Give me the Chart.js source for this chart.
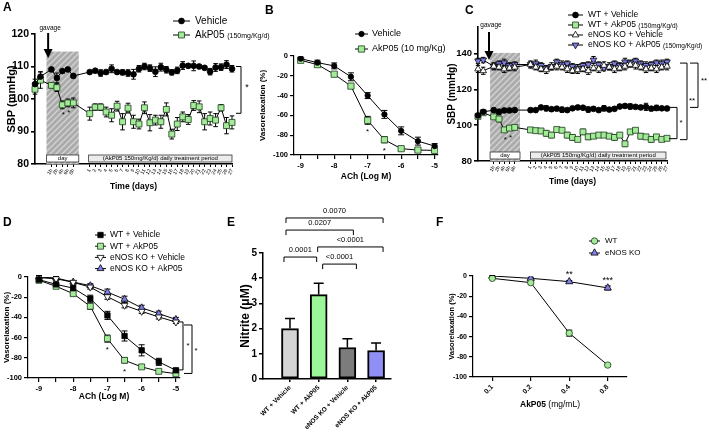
<!DOCTYPE html>
<html>
<head>
<meta charset="utf-8">
<script src="https://cdn.jsdelivr.net/npm/chart.js@4.4.1/dist/chart.umd.min.js"></script>
<style>
html, body { margin: 0; padding: 0; background: #fff; }
#wrap { position: relative; width: 709px; height: 436px; overflow: hidden; background: #fff; }
#wrap canvas { position: absolute; left: 0; top: 0; }
</style>
</head>
<body>
<div id="wrap">
  <canvas id="cA" width="709" height="436"></canvas>
  <canvas id="cB" width="709" height="436"></canvas>
  <canvas id="cC" width="709" height="436"></canvas>
  <canvas id="cD" width="709" height="436"></canvas>
  <canvas id="cE" width="709" height="436"></canvas>
  <canvas id="cF" width="709" height="436"></canvas>
</div>
<script>
// ---------- data ----------
// time course (A, C): 2 baseline readings, 5 readings on gavage day, 27 treatment days
const timeLabels = ['', '', '', '1h', '2h', '4h', '6h', '8h', '', '',
  '1', '2', '3', '4', '5', '6', '7', '8', '9', '10', '11', '12', '13', '14', '15', '16', '17', '18',
  '19', '20', '21', '22', '23', '24', '25', '26', '27'];
const treatmentText = '(AkP05 150mg/Kg/d) daily treatment period';

const seriesA = ['Vehicle', 'AkP05'];
const aVeh = [104.6, 106.9, null, 109.1, 106.5, 108.6, 109.1, 107.1, null, null,
  108.3, 108.7, 108.0, 108.3, 109.3, 108.3, 108.2, 108.0, 107.6, 109.3,
  110.0, 109.5, 108.4, 109.8, 109.0, 108.2, 108.8, 110.3, 110.2, 110.2,
  110.0, 109.6, 108.4, 109.7, 109.8, 110.6, 109.3];
const aVehErr = [1.5, 1.5, null, 0.5, 1.5, 0.5, 0.5, 0.5, null, null,
  0.5, 0.5, 1.0, 0.6, 1.2, 0.5, 0.8, 1.0, 1.5, 1.0,
  1.0, 1.0, 1.5, 1.2, 1.0, 0.8, 1.0, 1.2, 0.6, 1.5,
  0.5, 0.6, 1.0, 1.2, 1.0, 1.2, 1.0];
const aAk = [103.0, 105.8, null, 104.2, 103.5, 98.2, 98.8, 98.8, null, null,
  95.5, 97.5, 97.5, 96.0, 95.0, 97.8, 93.0, 97.2, 93.0, 92.3,
  97.3, 92.7, 93.5, 93.0, 96.8, 89.2, 92.3, 94.5, 93.7, 98.0,
  97.6, 93.0, 94.0, 93.5, 97.3, 91.8, 92.8];
const aAkErr = [1.5, 2.5, null, 0.8, 1.2, 1.2, 1.2, 1.5, null, null,
  2.0, 1.0, 1.0, 1.5, 2.0, 1.5, 2.5, 1.5, 2.0, 1.5,
  1.8, 2.5, 1.5, 2.0, 2.0, 1.5, 2.0, 1.5, 1.5, 1.5,
  1.8, 2.5, 2.0, 2.0, 1.0, 2.5, 2.0];

// concentration-response (B, D)
const logAch = [-9, -8.5, -8, -7.5, -7, -6.5, -6, -5.5, -5];
const seriesB = ['Vehicle', 'AkP05 (10 mg/Kg)'];
const bVeh = [-2.7, -6.7, -10, -21, -40, -59, -75.6, -86, -91];
const bVehErr = [1.5, 2.5, 3, 4, 3, 4, 4, 4, 2.5];
const bAk = [-4.3, -8.7, -18.4, -30.4, -65, -84.6, -93.6, -95, -95.3];
const bAkErr = [1, 1.5, 1.5, 2, 4, 3, 2, 1.5, 1.5];

const seriesC = ['WT + Vehicle', 'WT + AkP05', 'eNOS KO + Vehicle', 'eNOS KO + AkP05'];
const cWtVeh = [105.5, 107.5, null, 108.5, 107.5, 108.3, 108.3, 108.5, null, null,
  108.5, 108.5, 110.0, 109.5, 109.0, 109.3, 108.7, 108.5, 109.5, 110.0,
  109.8, 108.8, 109.2, 108.5, 109.5, 108.8, 109.2, 110.5, 110.8, 110.5,
  110.3, 110.0, 110.3, 109.3, 109.7, 109.5, 109.4];
const cWtVehErr = [1, 1, null, 1, 1.5, 0.5, 0.5, 1, null, null,
  1, 1, 1, 1.5, 1, 1, 1.5, 1, 1, 1,
  1, 1.5, 1, 1, 1.5, 1, 1, 1, 1, 1.5,
  1, 1, 2, 1, 1.5, 1, 1];
const cWtAk = [105.0, 107.0, null, 104.7, 103.5, 97.4, 98.4, 98.8, null, null,
  97.4, 97.0, 96.8, 95.5, 94.5, 97.6, 97.2, 94.5, 93.2, 92.1,
  96.3, 93.5, 93.9, 94.5, 94.5, 93.9, 93.2, 94.5, 89.6, 96.3,
  97.2, 93.9, 93.5, 92.1, 93.5, 92.1, 92.7];
const cWtAkErr = [1, 1, null, 1, 1.5, 1, 1, 1, null, null,
  1, 1, 1, 1.5, 1.5, 1, 1, 1.5, 1.5, 1,
  1.5, 1.5, 1, 1, 1, 1, 1.5, 1, 1.5, 1,
  1, 1.5, 1, 1.5, 1, 1, 1];
const cKoVeh = [131.5, 130.5, null, 133.0, 132.5, 131.5, 132.0, 132.5, null, null,
  134.0, 132.5, 131.5, 131.0, 132.5, 133.0, 132.5, 131.5, 130.5, 131.0,
  131.5, 130.5, 132.0, 131.5, 133.5, 132.5, 131.5, 132.0, 133.0, 134.0,
  133.5, 132.5, 131.5, 132.0, 131.5, 132.5, 133.0];
const cKoVehErr = [2, 2, null, 2, 1.5, 2, 1.5, 2, null, null,
  2, 1.5, 1.5, 2, 1.5, 2, 1.5, 2, 1.5, 2,
  1.5, 2, 1.5, 2, 2, 1.5, 2, 1.5, 2, 1.5,
  2, 1.5, 2, 1.5, 2, 1.5, 2];
const cKoAk = [136.0, 136.5, null, 133.0, 134.5, 135.0, 133.5, 134.0, null, null,
  134.0, 134.5, 133.5, 132.0, 133.0, 135.5, 134.0, 134.5, 133.0, 132.0,
  133.5, 134.0, 136.5, 134.0, 132.0, 133.0, 134.5, 133.5, 135.5, 135.0,
  136.0, 134.5, 133.5, 134.0, 135.0, 134.5, 135.5];
const cKoAkErr = [1.5, 1.5, null, 1.5, 1.5, 2, 1.5, 1.5, null, null,
  1.5, 2, 1.5, 1.5, 2, 1.5, 2, 1.5, 1.5, 2,
  1.5, 1.5, 2, 1.5, 1.5, 2, 1.5, 1.5, 2, 1.5,
  1.5, 1.5, 2, 1.5, 1.5, 2, 1.5];

const seriesD = ['WT + Vehicle', 'WT + AkP05', 'eNOS KO + Vehicle', 'eNOS KO + AkP05'];
const dWtVeh = [-2.6, -7.3, -11, -21.5, -38, -58.4, -72.6, -84, -92.4];
const dWtVehErr = [1.5, 2, 3, 3.5, 4, 5, 5.5, 3.5, 2];
const dWtAk = [-3.3, -9.2, -16.5, -29, -61, -82.5, -89, -93.4, -95.7];
const dWtAkErr = [1, 1.5, 2, 3, 3.5, 2.5, 1.5, 1.5, 1];
const dKoVeh = [-0.7, -1.7, -5.3, -10, -19.5, -28, -34, -39.6, -44.6];
const dKoVehErr = [1.5, 1.5, 1.5, 2, 2.5, 2.5, 2, 2, 1.5];
const dKoAk = [0, -1, -5, -8.6, -15, -22, -30.5, -36.3, -42];
const dKoAkErr = [1.5, 1.5, 1.5, 2, 3, 3, 2.5, 2.5, 2];

// nitrite (E)
const eGroups = ['WT + Vehicle', 'WT + AkP05', 'eNOS KO + Vehicle', 'eNOS KO + AkP05'];
const eNitrite = [2.0, 3.35, 1.25, 1.13];
const eSem = [0.4, 0.45, 0.35, 0.3];
const ePairs = [[0, 1], [1, 2], [1, 3], [0, 2], [0, 3]];
const ePvalues = ['0.0001', '<0.0001', '<0.0001', '0.0207', '0.0070'];

// ex vivo AkP05 (F)
const fDose = ['0.1', '0.2', '0.4', '0.8'];
const seriesF = ['WT', 'eNOS KO'];
const fWt = [-2.3, -6.6, -56.6, -88.2];
const fWtErr = [1, 1, 3, 1];
const fKo = [0, -2.3, -5.6, -11.8];
const fKoErr = [0.5, 1, 1.2, 2];

// ---------- styles ----------
const FONT = '"Liberation Sans", Arial, Helvetica, sans-serif';
Chart.defaults.font.family = FONT;
Chart.defaults.color = '#000';

const GREEN = '#a3eb98';
const BLUE = '#8080ea';
const ST = {
  veh: { shape: 'circle', r: 2.9, fill: '#000', stroke: '#000' },
  vehSq: { shape: 'rect', r: 3.8, fill: '#000', stroke: '#000' },
  ak: { shape: 'rect', r: 4.2, fill: GREEN, stroke: '#1e3b1e' },
  akCircle: { shape: 'circle', r: 3.2, fill: GREEN, stroke: '#1e3b1e' },
  koUp: { shape: 'triangle', r: 3.8, rot: 0, fill: '#fff', stroke: '#000' },
  koDown: { shape: 'triangle', r: 4, rot: 180, fill: '#fff', stroke: '#000' },
  koAkUp: { shape: 'triangle', r: 4, rot: 0, fill: BLUE, stroke: '#000' },
  koAkDown: { shape: 'triangle', r: 3.8, rot: 180, fill: BLUE, stroke: '#000' }
};

const f = (size, weight = 'bold') => ({ family: FONT, size, weight, lineHeight: 1.2 });
const css = (size, weight = 'normal') => `${weight} ${size}px ${FONT}`;

function series(label, data, means, errors, st) {
  return {
    label, data, means, errors,
    borderColor: '#000', borderWidth: 1,
    pointStyle: st.shape, pointRadius: st.r, pointRotation: st.rot || 0,
    pointBackgroundColor: st.fill, pointBorderColor: st.stroke, pointBorderWidth: 0.8,
    tension: 0, spanGaps: true, fill: false
  };
}
const pts = (xs, ys) => xs.map((x, i) => ({ x, y: ys[i] }));

function opts(area, yW, xH, scales) {
  return {
    responsive: false, animation: false, devicePixelRatio: 1, events: [],
    layout: { padding: { left: area.l - yW, top: area.t, right: 709 - area.r, bottom: 436 - area.b - xH } },
    plugins: { legend: { display: false }, tooltip: { enabled: false } },
    scales
  };
}

function yAxis(o) {
  const lw = o.lw || 1.2;
  const a = {
    type: 'linear', min: o.min, max: o.max,
    ticks: { stepSize: o.step, font: o.tickFont, color: '#000', padding: 2 },
    grid: { drawOnChartArea: false, color: '#000', lineWidth: lw, tickLength: 4 },
    border: { color: '#000', width: lw },
    title: { display: true, text: o.title, font: o.titleFont, color: '#000', padding: { top: o.titlePad, bottom: 0 } },
    afterFit: s => { s.width = o.w; }
  };
  if (o.ticksAt) a.afterBuildTicks = s => { s.ticks = o.ticksAt.map(v => ({ value: v })); };
  return a;
}

function timeAxis(xH) {
  return {
    type: 'category', offset: false,
    ticks: { autoSkip: false, minRotation: 60, maxRotation: 60, font: f(5, 'normal'), color: '#000', padding: 1 },
    grid: { drawOnChartArea: false, offset: false, color: '#000', lineWidth: 1, tickLength: 3,
      tickColor: c => (timeLabels[c.index] ? '#000' : 'rgba(0,0,0,0)') },
    border: { color: '#000', width: 1.6 },
    title: { display: true, text: 'Time (days)', font: f(8.5), color: '#000', padding: { top: 0, bottom: 2 } },
    afterFit: s => { s.height = xH; }
  };
}

function logAxis(min, max, xH) {
  return {
    type: 'linear', min, max,
    afterBuildTicks: s => { s.ticks = logAch.map(v => ({ value: v })); },
    ticks: { autoSkip: false, maxRotation: 0, font: f(7.5), color: '#000', padding: 2,
      callback: v => (Number.isInteger(v) ? String(v) : '') },
    grid: { drawOnChartArea: false, color: '#000', lineWidth: 1.2, tickLength: 4 },
    border: { color: '#000', width: 1.2 },
    title: { display: true, text: 'ACh (Log M)', font: f(8.5), color: '#000', padding: { top: 0, bottom: 1 } },
    afterFit: s => { s.height = xH; }
  };
}

// ---------- drawing helpers ----------
function txt(ctx, s, x, y, font, align = 'center') {
  ctx.save();
  ctx.font = font; ctx.fillStyle = '#000'; ctx.textAlign = align; ctx.textBaseline = 'middle';
  ctx.fillText(s, x, y);
  ctx.restore();
}

function marker(ctx, st, x, y) {
  ctx.save();
  ctx.beginPath();
  if (st.shape === 'circle') {
    ctx.arc(x, y, st.r, 0, Math.PI * 2);
  } else if (st.shape === 'rect') {
    const h = st.r * Math.SQRT1_2;
    ctx.rect(x - h, y - h, 2 * h, 2 * h);
  } else {
    let a = (st.rot || 0) * Math.PI / 180;
    for (let k = 0; k < 3; k++) {
      const px = x + Math.sin(a) * st.r, py = y - Math.cos(a) * st.r;
      if (k === 0) ctx.moveTo(px, py); else ctx.lineTo(px, py);
      a += Math.PI * 2 / 3;
    }
    ctx.closePath();
  }
  ctx.fillStyle = st.fill; ctx.fill();
  ctx.strokeStyle = st.stroke; ctx.lineWidth = 0.8; ctx.stroke();
  ctx.restore();
}

function legend(ctx, items, x0, y0, dy, len, gap, size, small) {
  items.forEach((it, k) => {
    const y = y0 + k * dy;
    ctx.save();
    ctx.strokeStyle = '#000'; ctx.lineWidth = 1;
    ctx.beginPath(); ctx.moveTo(x0, y); ctx.lineTo(x0 + len, y); ctx.stroke();
    ctx.restore();
    marker(ctx, it.st, x0 + len / 2, y);
    const tx = x0 + len + gap;
    txt(ctx, it.label, tx, y, css(size), 'left');
    if (it.small) {
      ctx.save(); ctx.font = css(size);
      const w = ctx.measureText(it.label + ' ').width;
      ctx.restore();
      txt(ctx, it.small, tx + w, y + 1, css(small), 'left');
    }
  });
}

function errorBars(chart, cap, lw, upOnly) {
  const { ctx } = chart;
  const ys = chart.scales.y;
  ctx.save();
  ctx.strokeStyle = '#000'; ctx.lineWidth = lw;
  chart.data.datasets.forEach((ds, i) => {
    if (!ds.errors) return;
    chart.getDatasetMeta(i).data.forEach((el, j) => {
      const m = ds.means[j], e = ds.errors[j];
      if (m == null || e == null) return;
      const x = el.x;
      const yHi = ys.getPixelForValue(m + e);
      const yLo = ys.getPixelForValue(upOnly ? m : m - e);
      ctx.beginPath();
      ctx.moveTo(x, yLo); ctx.lineTo(x, yHi);
      ctx.moveTo(x - cap, yHi); ctx.lineTo(x + cap, yHi);
      if (!upOnly) { ctx.moveTo(x - cap, yLo); ctx.lineTo(x + cap, yLo); }
      ctx.stroke();
    });
  });
  ctx.restore();
}

function hatch(ctx) {
  const c = document.createElement('canvas');
  c.width = 6; c.height = 6;
  const g = c.getContext('2d');
  g.fillStyle = '#ababab'; g.fillRect(0, 0, 6, 6);
  g.strokeStyle = '#d2d2d2'; g.lineWidth = 1.4;
  g.beginPath();
  g.moveTo(0, 6); g.lineTo(6, 0);
  g.moveTo(-3, 3); g.lineTo(3, -3);
  g.moveTo(3, 9); g.lineTo(9, 3);
  g.stroke();
  return ctx.createPattern(c, 'repeat');
}

function shade(chart, i0, i1, vTop) {
  const { ctx, chartArea, scales: { x, y } } = chart;
  const x0 = x.getPixelForValue(i0), x1 = x.getPixelForValue(i1), yt = y.getPixelForValue(vTop);
  ctx.save();
  ctx.fillStyle = hatch(ctx);
  ctx.fillRect(x0, yt, x1 - x0, chartArea.bottom - yt);
  ctx.restore();
}

function phaseBoxes(chart, day, treat) {
  const { ctx, chartArea, scales: { x } } = chart;
  const yb = chartArea.bottom - 2, h = 7;
  const box = (a, b, fill, label) => {
    const x0 = x.getPixelForValue(a), x1 = x.getPixelForValue(b);
    ctx.save();
    ctx.fillStyle = fill; ctx.fillRect(x0, yb - h, x1 - x0, h);
    ctx.strokeStyle = '#333'; ctx.lineWidth = 0.8; ctx.strokeRect(x0, yb - h, x1 - x0, h);
    ctx.restore();
    txt(ctx, label, (x0 + x1) / 2, yb - h / 2, css(6));
  };
  box(day[0], day[1], '#fff', 'day');
  box(treat[0], treat[1], '#ececec', treatmentText);
}

function gavage(ctx, x, yText, y0, y1) {
  txt(ctx, 'gavage', x + 2, yText, css(6.5));
  ctx.save();
  ctx.strokeStyle = '#000'; ctx.fillStyle = '#000'; ctx.lineWidth = 2;
  ctx.beginPath(); ctx.moveTo(x, y0); ctx.lineTo(x, y1 - 7); ctx.stroke();
  ctx.beginPath(); ctx.moveTo(x - 4.5, y1 - 9); ctx.lineTo(x + 4.5, y1 - 9); ctx.lineTo(x, y1); ctx.closePath(); ctx.fill();
  ctx.restore();
}

function vbracket(ctx, xs, xv, ya, yb) {
  ctx.save();
  ctx.strokeStyle = '#000'; ctx.lineWidth = 1;
  ctx.beginPath(); ctx.moveTo(xs, ya); ctx.lineTo(xv, ya); ctx.lineTo(xv, yb); ctx.lineTo(xs, yb); ctx.stroke();
  ctx.restore();
}

function hbracket(ctx, xa, xb, y, tick) {
  ctx.save();
  ctx.strokeStyle = '#000'; ctx.lineWidth = 1;
  ctx.beginPath(); ctx.moveTo(xa, y + tick); ctx.lineTo(xa, y); ctx.lineTo(xb, y); ctx.lineTo(xb, y + tick); ctx.stroke();
  ctx.restore();
}

const letter = (ctx, s, x, y) => txt(ctx, s, x, y, css(12, 'bold'), 'left');

// ---------- A ----------
new Chart(document.getElementById('cA'), {
  type: 'line',
  data: {
    labels: timeLabels,
    datasets: [
      series(seriesA[0], aVeh, aVeh, aVehErr, ST.veh),
      series(seriesA[1], aAk, aAk, aAkErr, ST.ak)
    ]
  },
  options: opts({ l: 35, t: 34, r: 232, b: 164 }, 35, 30, {
    x: timeAxis(30),
    y: yAxis({ min: 80, max: 120, step: 10, w: 35, title: 'SBP (mmHg)', tickFont: f(10.5), titleFont: f(11), titlePad: 5, lw: 1.6 })
  }),
  plugins: [{
    id: 'decorA',
    beforeDatasetsDraw(c) {
      shade(c, 2.1, 8, 114.6);
      errorBars(c, 2.3, 1, false);
    },
    afterDatasetsDraw(c) {
      const { ctx, chartArea, scales: { x, y } } = c;
      phaseBoxes(c, [2.1, 8], [9.8, 36]);
      gavage(ctx, x.getPixelForValue(2.4), 28, 33, 58);
      [5, 6].forEach(i => txt(ctx, '*', x.getPixelForValue(i) + 1, y.getPixelForValue(aAk[i]) + 10, css(8)));
      const r = chartArea.right;
      vbracket(ctx, r + 4, r + 9, y.getPixelForValue(110), y.getPixelForValue(95.6));
      txt(ctx, '*', r + 15, (y.getPixelForValue(110) + y.getPixelForValue(95.6)) / 2 - 2, css(9));
      legend(ctx, [
        { label: seriesA[0], st: ST.veh },
        { label: seriesA[1], small: '(150mg/Kg/d)', st: ST.ak }
      ], 173, 21, 14, 17, 5, 10, 7);
      letter(ctx, 'A', 3, 8);
    }
  }]
});

// ---------- B ----------
new Chart(document.getElementById('cB'), {
  type: 'line',
  data: {
    datasets: [
      series(seriesB[0], pts(logAch, bVeh), bVeh, bVehErr, { ...ST.veh, r: 2.7 }),
      series(seriesB[1], pts(logAch, bAk), bAk, bAkErr, { ...ST.ak, r: 4.4 })
    ]
  },
  options: opts({ l: 294, t: 56, r: 438, b: 155 }, 39, 28, {
    x: logAxis(-9.2, -4.9, 28),
    y: yAxis({ min: -100, max: 0, step: 20, w: 39, title: 'Vasorelaxation (%)', tickFont: f(7.5), titleFont: f(8), titlePad: 3 })
  }),
  plugins: [{
    id: 'decorB',
    beforeDatasetsDraw(c) { errorBars(c, 3, 1, false); },
    afterDatasetsDraw(c) {
      const { ctx, scales: { x, y } } = c;
      [4, 5].forEach(i => txt(ctx, '*', x.getPixelForValue(logAch[i]), y.getPixelForValue(bAk[i]) + 11, css(8)));
      legend(ctx, [
        { label: seriesB[0], st: { ...ST.veh, r: 2.7 } },
        { label: seriesB[1], st: { ...ST.ak, r: 4.4 } }
      ], 355, 34, 15, 13, 4, 9, 7);
      letter(ctx, 'B', 265, 11);
    }
  }]
});

// ---------- C ----------
new Chart(document.getElementById('cC'), {
  type: 'line',
  data: {
    labels: timeLabels,
    datasets: [
      series(seriesC[0], cWtVeh, cWtVeh, cWtVehErr, ST.veh),
      series(seriesC[1], cWtAk, cWtAk, cWtAkErr, ST.ak),
      series(seriesC[2], cKoVeh, cKoVeh, cKoVehErr, ST.koUp),
      series(seriesC[3], cKoAk, cKoAk, cKoAkErr, ST.koAkDown)
    ]
  },
  options: opts({ l: 478, t: 27, r: 667, b: 161 }, 33, 28, {
    x: timeAxis(28),
    y: yAxis({ min: 80, max: 155, ticksAt: [80, 100, 120, 140], w: 33, title: 'SBP (mmHg)', tickFont: f(9.5), titleFont: f(10), titlePad: 1, lw: 1.6 })
  }),
  plugins: [{
    id: 'decorC',
    beforeDatasetsDraw(c) {
      shade(c, 2.3, 8, 140.5);
      errorBars(c, 2.2, 1, false);
    },
    afterDatasetsDraw(c) {
      const { ctx, chartArea, scales: { x, y } } = c;
      phaseBoxes(c, [2.3, 8], [10, 35.8]);
      gavage(ctx, x.getPixelForValue(2.1), 25, 32, 60);
      [5, 6].forEach(i => txt(ctx, '*', x.getPixelForValue(i) + 1, y.getPixelForValue(cWtAk[i]) + 10, css(8)));
      const r = chartArea.right;
      const yVeh = y.getPixelForValue(110), yAk = y.getPixelForValue(92.5), yKo = y.getPixelForValue(134.8);
      vbracket(ctx, r + 2, r + 10, yVeh, yAk);
      txt(ctx, '*', r + 14, (yVeh + yAk) / 2, css(8));
      vbracket(ctx, r + 13, r + 20, yKo, yAk + 1);
      txt(ctx, '**', r + 25, (yKo + yAk) / 2, css(8));
      vbracket(ctx, r + 23, r + 31, yKo, yVeh);
      txt(ctx, '**', r + 37, (yKo + yVeh) / 2 - 4, css(8));
      legend(ctx, [
        { label: seriesC[0], st: ST.veh },
        { label: seriesC[1], small: '(150mg/Kg/d)', st: ST.ak },
        { label: seriesC[2], st: ST.koUp },
        { label: seriesC[3], small: '(150mg/Kg/d)', st: ST.koAkDown }
      ], 568, 15, 10, 15, 5, 8.5, 6.5);
      letter(ctx, 'C', 465, 11);
    }
  }]
});

// ---------- D ----------
new Chart(document.getElementById('cD'), {
  type: 'line',
  data: {
    datasets: [
      series(seriesD[0], pts(logAch, dWtVeh), dWtVeh, dWtVehErr, ST.vehSq),
      series(seriesD[1], pts(logAch, dWtAk), dWtAk, dWtAkErr, ST.ak),
      series(seriesD[2], pts(logAch, dKoVeh), dKoVeh, dKoVehErr, ST.koDown),
      series(seriesD[3], pts(logAch, dKoAk), dKoAk, dKoAkErr, ST.koAkUp)
    ]
  },
  options: opts({ l: 28, t: 277, r: 180, b: 378 }, 28, 25, {
    x: logAxis(-9.32, -4.88, 25),
    y: yAxis({ min: -100, max: 0, step: 20, w: 28, title: 'Vasorelaxation (%)', tickFont: f(7.5), titleFont: f(8), titlePad: 2 })
  }),
  plugins: [{
    id: 'decorD',
    beforeDatasetsDraw(c) { errorBars(c, 3, 1, false); },
    afterDatasetsDraw(c) {
      const { ctx, chartArea, scales: { x, y } } = c;
      [4, 5].forEach(i => txt(ctx, '*', x.getPixelForValue(logAch[i]), y.getPixelForValue(dWtAk[i]) + 11, css(8)));
      const r = chartArea.right;
      vbracket(ctx, r - 2, r + 3, y.getPixelForValue(-44.5), y.getPixelForValue(-92));
      txt(ctx, '*', r + 8, (y.getPixelForValue(-44.5) + y.getPixelForValue(-92)) / 2, css(8));
      vbracket(ctx, r + 4, r + 12, y.getPixelForValue(-47.5), y.getPixelForValue(-95.5));
      txt(ctx, '*', r + 16, (y.getPixelForValue(-47.5) + y.getPixelForValue(-95.5)) / 2 + 2, css(8));
      legend(ctx, [
        { label: seriesD[0], st: ST.vehSq },
        { label: seriesD[1], st: ST.ak },
        { label: seriesD[2], st: ST.koDown },
        { label: seriesD[3], st: ST.koAkUp }
      ], 95, 235, 11.2, 11, 4, 8.5, 7);
      letter(ctx, 'D', 3, 223);
    }
  }]
});

// ---------- E ----------
const eColors = ['#d4d4d4', '#9df59a', '#7c7c7c', '#8f8ff5'];
const eBracketLayout = [
  { level: 4.84, dx: [-6, -2] },
  { level: 4.56, dx: [4, 9] },
  { level: 5.24, dx: [-1, 7] },
  { level: 5.91, dx: [-4, 6] },
  { level: 6.39, dx: [-4, 7] }
];
new Chart(document.getElementById('cE'), {
  type: 'bar',
  data: {
    datasets: [{
      data: eNitrite.map((v, i) => ({ x: i, y: v })),
      means: eNitrite, errors: eSem,
      backgroundColor: eColors, borderColor: '#000', borderWidth: 2, borderSkipped: false,
      barThickness: 17
    }]
  },
  options: opts({ l: 263, t: 253, r: 391, b: 379 }, 26, 57, {
    x: {
      type: 'linear', min: -0.94, max: 3.52, offset: false,
      afterBuildTicks: s => { s.ticks = eGroups.map((g, i) => ({ value: i })); },
      ticks: { autoSkip: false, minRotation: 45, maxRotation: 45, font: f(6.5), color: '#000', padding: 2,
        callback: v => eGroups[v] },
      grid: { drawOnChartArea: false, offset: false, color: '#000', lineWidth: 1.5, tickLength: 3 },
      border: { color: '#000', width: 1.5 },
      afterFit: s => { s.height = 57; }
    },
    y: yAxis({ min: 0, max: 5, step: 1, w: 26, title: 'Nitrite (μM)', tickFont: f(10), titleFont: f(12), titlePad: 1, lw: 1.5 })
  }),
  plugins: [{
    id: 'decorE',
    afterDatasetsDraw(c) {
      const { ctx, scales: { x, y } } = c;
      errorBars(c, 5, 1.5, true);
      ePairs.forEach((p, k) => {
        const L = eBracketLayout[k];
        const xa = x.getPixelForValue(p[0]) + L.dx[0], xb = x.getPixelForValue(p[1]) + L.dx[1];
        const yy = y.getPixelForValue(L.level);
        hbracket(ctx, xa, xb, yy, 5);
        txt(ctx, ePvalues[k], (xa + xb) / 2, yy - 7, css(7.5));
      });
      letter(ctx, 'E', 227, 223);
    }
  }]
});

// ---------- F ----------
new Chart(document.getElementById('cF'), {
  type: 'line',
  data: {
    labels: fDose,
    datasets: [
      series(seriesF[0], fWt, fWt, fWtErr, ST.akCircle),
      series(seriesF[1], fKo, fKo, fKoErr, { ...ST.koAkUp, r: 4.2 })
    ]
  },
  options: opts({ l: 473, t: 276, r: 627, b: 377 }, 27, 32, {
    x: {
      type: 'category', offset: true,
      ticks: { autoSkip: false, minRotation: 45, maxRotation: 45, font: f(7), color: '#000', padding: 2 },
      grid: { drawOnChartArea: false, offset: false, color: '#000', lineWidth: 1.2, tickLength: 4 },
      border: { color: '#000', width: 1.2 },
      afterFit: s => { s.height = 32; }
    },
    y: yAxis({ min: -100, max: 0, step: 20, w: 27, title: 'Vasorelaxation (%)', tickFont: f(7), titleFont: f(7.5), titlePad: 1.5 })
  }),
  plugins: [{
    id: 'decorF',
    beforeDatasetsDraw(c) { errorBars(c, 3, 1, false); },
    afterDatasetsDraw(c) {
      const { ctx, chartArea, scales: { x, y } } = c;
      txt(ctx, '**', x.getPixelForValue(2), y.getPixelForValue(fKo[2]) - 7, css(9));
      txt(ctx, '***', x.getPixelForValue(3), y.getPixelForValue(fKo[3] + fKoErr[3]) - 5, css(9));
      // x title: bold compound name + regular unit
      ctx.save();
      ctx.font = css(8.5, 'bold');
      const w1 = ctx.measureText('AkP05').width;
      ctx.font = css(8.5);
      const w2 = ctx.measureText(' (mg/mL)').width;
      ctx.restore();
      const cx = (chartArea.left + chartArea.right) / 2 - (w1 + w2) / 2;
      txt(ctx, 'AkP05', cx, 405, css(8.5, 'bold'), 'left');
      txt(ctx, ' (mg/mL)', cx + w1, 405, css(8.5), 'left');
      legend(ctx, [
        { label: seriesF[0], st: ST.akCircle },
        { label: seriesF[1], st: { ...ST.koAkUp, r: 4.2 } }
      ], 589, 241, 12, 11, 5, 8, 7);
      letter(ctx, 'F', 436, 223);
    }
  }]
});
</script>
</body>
</html>
